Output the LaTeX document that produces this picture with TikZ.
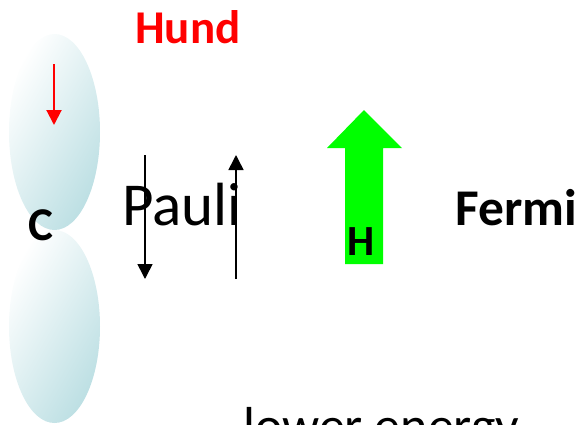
\documentclass[tikz,border=0pt]{standalone}
\usepackage{fontspec}
\setmainfont{Carlito}
\usetikzlibrary{arrows.meta}
\definecolor{lobeteal}{RGB}{188,223,227}
\definecolor{hundred}{RGB}{255,0,0}
\definecolor{fieldgreen}{RGB}{0,255,0}

\begin{document}
\begin{tikzpicture}[
  x=1pt, y=-1pt,
  lobe/.style={left color=white, right color=lobeteal, shading angle=60},
  spin/.style={line width=1.6pt, -{Triangle[width=15pt,length=15pt]}},
  hundspin/.style={spin, line width=2pt, draw=hundred, hundred},
  boldlabel/.style={font=\bfseries\fontsize{47}{50}\selectfont, inner sep=0pt, anchor=base west},
  biglabel/.style={font=\fontsize{61}{66}\selectfont, inner sep=0pt, anchor=base west}
]
  % pagina de 581 x 424 unidades
  \useasboundingbox (0,0) rectangle (581,424);

  % --- ORBITAL p ---
  \shade[lobe] (54.5,132) ellipse [x radius=45.5, y radius=98];
  \shade[lobe] (54.5,326.5) ellipse [x radius=45.5, y radius=96.5];
  \node[boldlabel] (carbon) at (28,240) {C};

  % espin de Hund en el lobulo superior
  \coordinate (hundtop) at (54,64);
  \coordinate (hundtip) at (54,125);
  \draw[hundspin] (hundtop) -- (hundtip);
  \node[boldlabel, text=hundred] (hund) at (135,43) {Hund};

  % --- PAULI ---
  \node[biglabel] (pauli) at (122,225) {Pauli};
  \coordinate (downtop) at (145,155);
  \coordinate (downtip) at (145,279);
  \coordinate (upbot)   at (236,279);
  \coordinate (uptip)   at (236,155);
  \draw[spin] (downtop) -- (downtip);
  \draw[spin] (upbot) -- (uptip);

  % --- CAMPO H ---
  \fill[fieldgreen] (345,264) -- (345,148) -- (327,148) -- (364,110)
    -- (402,148) -- (383,148) -- (383,264) -- cycle;
  \node[boldlabel, font=\bfseries\fontsize{43}{48}\selectfont, anchor=base] (field) at (361,255) {H};

  % --- FERMI ---
  \node[boldlabel, font=\bfseries\fontsize{51.5}{56}\selectfont] (fermi) at (455,225) {Fermi};
  \node[biglabel, font=\fontsize{52}{58}\selectfont] (lower) at (243,443) {lower energy};
\end{tikzpicture}
\end{document}
